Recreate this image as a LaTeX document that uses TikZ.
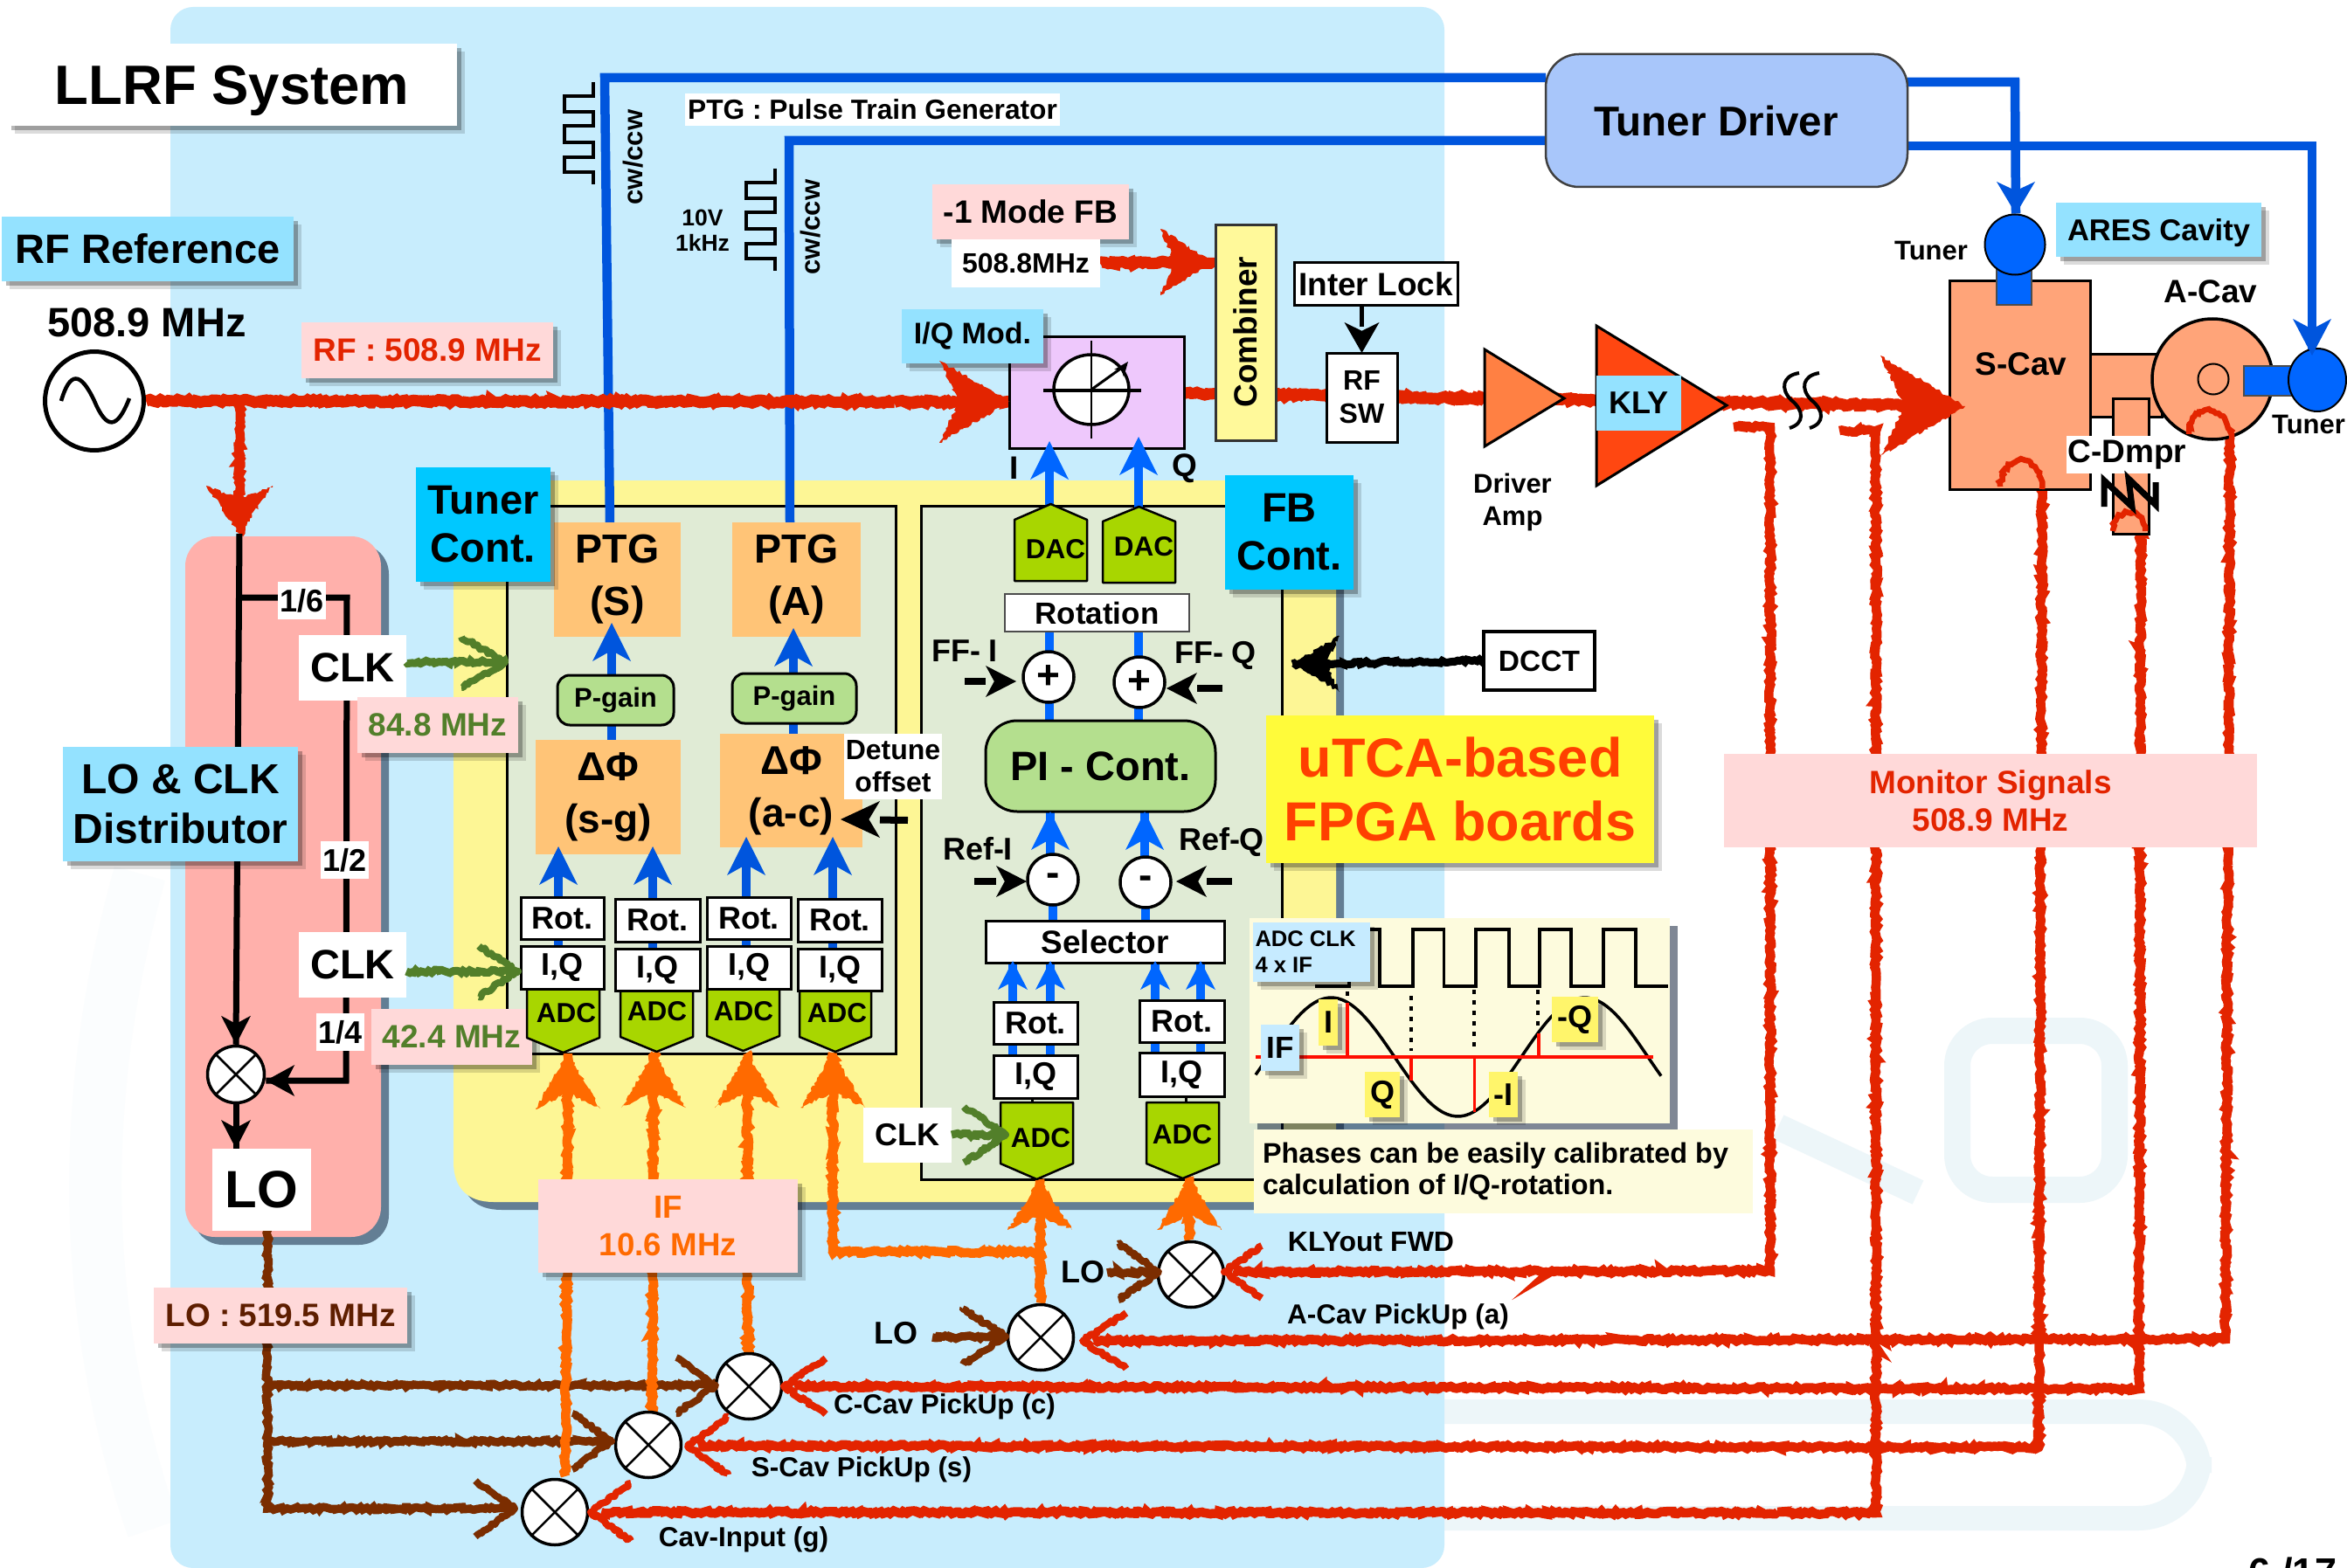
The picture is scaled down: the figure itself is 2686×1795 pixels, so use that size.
\documentclass[tikz,border=0pt]{standalone}
\usepackage{fontspec}
\setmainfont{Liberation Sans}
\usetikzlibrary{decorations.pathmorphing,shadows,calc,shapes.geometric}
\pgfdeclarelayer{back}\pgfdeclarelayer{lines}\pgfdeclarelayer{top}
\pgfsetlayers{back,lines,main,top}
\definecolor{cSky}{HTML}{C8EDFD}\definecolor{cCyan}{HTML}{94E2FF}\definecolor{cDeep}{HTML}{00C8FF}
\definecolor{cPink}{HTML}{FFD9D9}\definecolor{cRf}{HTML}{E32400}\definecolor{cBrn}{HTML}{7B2D00}
\definecolor{cBrnT}{HTML}{5E1E00}\definecolor{cOrg}{HTML}{FF6A00}\definecolor{cGrn}{HTML}{527F2A}
\definecolor{cBlu}{HTML}{0055DD}\definecolor{cBlt}{HTML}{0066FF}\definecolor{cPanel}{HTML}{E0EBD5}
\definecolor{cYel}{HTML}{FDF695}\definecolor{cPk}{HTML}{FFB0AB}\definecolor{cPtg}{HTML}{FFC477}
\definecolor{cGain}{HTML}{B4DF8E}\definecolor{cAdc}{HTML}{A8D600}\definecolor{cComb}{HTML}{FFF99A}
\definecolor{cTun}{HTML}{A8C6FA}\definecolor{cCav}{HTML}{FFA479}\definecolor{cIq}{HTML}{EEC8FC}
\definecolor{cAmp}{HTML}{FF8043}\definecolor{cKly}{HTML}{FF4711}\definecolor{cNote}{HTML}{FDFBDD}
\definecolor{cUt}{HTML}{FFFB3A}\definecolor{cUtT}{HTML}{FF4000}\definecolor{cTag}{HTML}{FFF56B}
\definecolor{cAdcL}{HTML}{C6EBFF}\definecolor{cMark}{HTML}{EDF6F9}
\newcommand\fs[2][1.2]{\fontsize{#2}{\fpeval{#1*#2}}\selectfont\bfseries}
\newcommand\rbx[7][]{\pgfmathsetmacro\rcx{(#3+#5)/2}\pgfmathsetmacro\rcy{(#4+#6)/2}\pgfmathsetmacro\rww{#5-#3}\pgfmathsetmacro\rhh{#6-#4}%
  \node[inner sep=0,outer sep=0,minimum width=\rww pt,minimum height=\rhh pt,align=center,#1] (#2) at (\rcx,\rcy) {#7};}
\newcommand\tx[6][]{\node[inner sep=0,align=center,font={\fs{#5}},#1] (#2) at (#3,#4) {#6};}
\newcommand\pent[9]{\draw[fill=cAdc,draw=black,line width=2.5,line join=round] (#2,#4)--(#3,#4)--(#3,#5)--({(#2+#3)/2},#6)--(#2,#5)--cycle;
  \node[inner sep=0,font={\fs{31.5}}] (#1) at (#7,#8) {#9};}
\newcommand\mixer[4]{\node[circle,draw=black,fill=white,line width=3.5,minimum size=#4*2 pt,inner sep=0] (#1) at (#2,#3) {};
  \draw[line width=2.5] (#1.45)--(#1.225) (#1.135)--(#1.-45);}
\newcommand\sumc[4]{\node[circle,draw=black,fill=white,line width=3.5,minimum size=58pt,inner sep=0,font={\fs{46}}] (#1) at (#2,#3) {#4};}
\newcommand\ahead[6][]{\begin{scope}[shift={(#2)},rotate=#3]\fill[#4,#1] (0,0)--(-#5,#6)--({-0.72*#5},0)--(-#5,-#6)--cycle;\end{scope}}
\newcommand\chev[5]{\begin{scope}[shift={(#1)},rotate=#2]\draw[#3,rough,line width=8,line join=round] (-#4,#5)--(0,0)--(-#4,-#5);\end{scope}}
\newcommand\bup[5]{\begin{pgfonlayer}{lines}\draw[line width=10,#5] (#1)--(#2);\end{pgfonlayer}
  \begin{pgfonlayer}{top}\ahead{#2}{90}{#5}{#3}{#4}\end{pgfonlayer}}
\newcommand\karr[5]{\draw[line width=8,black,shorten >=#4 pt] (#1)--(#2);\ahead{#2}{#3}{black}{#4}{#5}}
\begin{document}
\begin{tikzpicture}[x=1pt,y=-1pt,
 softsh/.style={general shadow={shadow xshift=9pt,shadow yshift=-9pt,opacity=.14,fill=black},general shadow={shadow xshift=5pt,shadow yshift=-5pt,opacity=.28,fill=black}},
 hardsh/.style={general shadow={shadow xshift=9pt,shadow yshift=-9pt,opacity=.5,fill=black!80!cBlu}},
 rough/.style={decorate,decoration={random steps,segment length=3pt,amplitude=1.8pt}},
 lab/.style={fill=cPink,softsh},
 cy/.style={fill=cCyan,softsh},
 deep/.style={fill=cDeep,softsh},
 wb/.style={fill=white,draw=black,line width=3},
 wn/.style={fill=white},
 org/.style={fill=cPtg},
 cav/.style={fill=cCav,draw=black,line width=3},
 tagy/.style={fill=cTag,softsh},
 rfl/.style={cRf,rough,line width=10.5,line join=miter},
 rfm/.style={cRf,rough,line width=13},
 brl/.style={cBrn,rough,line width=9.5},
 orl/.style={cOrg,rough,line width=10.5},
 grl/.style={cGrn,rough,line width=9},
 bll/.style={cBlu,line width=10.5,line join=miter},
 bkl/.style={black,line width=7,line join=miter},
 arc/.style={cRf,rough,line width=6.5}]
\useasboundingbox (0,0) rectangle (2686,1795);
\pgfmathsetseed{7}
%%%%% background
\begin{pgfonlayer}{back}
 \path[fill=white] (0,0) rectangle (2686,1795);
 \draw[cMark,line width=28,rounded corners=70] (1500,1616) -- (2517,1616) -- (2517,1738) -- (1500,1738);
 \draw[cMark,line width=30] (2035,1290) -- (2195,1365);
 \draw[cMark,line width=30,rounded corners=40] (2240,1180) -- (2420,1180) -- (2420,1362) -- (2240,1362) -- cycle;
 \draw[cMark!22!white,line width=60] (175,1750) .. controls (90,1500) and (90,1250) .. (160,1000);
 \rbx[fill=cSky,rounded corners=26]{bgsky}{195}{8}{1653}{1795}{}
 \rbx[fill=cPk,rounded corners=34,hardsh]{pkpanel}{212}{614}{436}{1416}{}
 \fill[cYel,hardsh] (519,550)--(1529,550)--(1529,1376)--(565,1376) .. controls (535,1376) and (519,1360) .. (519,1330) -- cycle;
 \rbx[fill=cPanel,draw=black,line width=3]{pnlL}{580}{579}{1025}{1206}{}
 \rbx[fill=cPanel,draw=black,line width=3]{pnlR}{1054}{579}{1467}{1350}{}
\end{pgfonlayer}
%%%%% named end points
\coordinate (tPk) at (274,611);
\coordinate (bS1) at (698,600); \coordinate (bS2) at (692,89);
\coordinate (bA1) at (904,600); \coordinate (bA2) at (903,161);
\coordinate (bR0) at (2183,94); \coordinate (bR1) at (2306,94); \coordinate (tT1) at (2307,245);
\coordinate (bQ0) at (2183,167); \coordinate (bQ1) at (2646,167); \coordinate (tT2) at (2646,407);
\coordinate (tIq) at (1156,460); \coordinate (tComb) at (1387,300); \coordinate (tS) at (2249,465);
\coordinate (tI) at (1201,505); \coordinate (tQ) at (1303,500);
\coordinate (rK0) at (1984,489); \coordinate (rK1) at (2026,489); \coordinate (rK2) at (2026,1455);
\coordinate (rG0) at (2105,493); \coordinate (rG1) at (2147,493); \coordinate (rG2) at (2147,1732);
\coordinate (rS1) at (2337,556); \coordinate (rS2) at (2333,1657);
\coordinate (rC1) at (2450,606); \coordinate (rC2) at (2448,1590);
\coordinate (rA1) at (2552,500); \coordinate (rA2) at (2547,1533);
\coordinate (tmK) at (1401,1456); \coordinate (tmA) at (1239,1535); \coordinate (tmC) at (897,1587);
\coordinate (tmS) at (787,1655); \coordinate (tmG) at (676,1731);
\coordinate (br0) at (306,1405); \coordinate (br1) at (306,1586); \coordinate (br2) at (306,1650); \coordinate (br3) at (306,1727);
\coordinate (tb1) at (819,1586); \coordinate (tb2) at (700,1650); \coordinate (tb3) at (589,1727);
\coordinate (tL1) at (1151,1530); \coordinate (sL1) at (1067,1531); \coordinate (tL2) at (1326,1456); \coordinate (sL2) at (1267,1457);
\coordinate (oA0) at (647,1690); \coordinate (oA) at (650,1206);
\coordinate (oB0) at (746,1618); \coordinate (oB) at (748,1205);
\coordinate (oC0) at (856,1552); \coordinate (oC) at (855,1205);
\coordinate (oD1) at (1186,1433); \coordinate (oD0) at (953,1433); \coordinate (oD) at (953,1205);
\coordinate (oE) at (1190,1350); \coordinate (oF) at (1361,1347);
\coordinate (tg1) at (578,758); \coordinate (tg2) at (593,1112); \coordinate (tg3) at (1151,1299);
\coordinate (tD) at (1479,760);
%%%%% title and labels
\rbx[wn,softsh,text depth=0pt]{title}{8}{50}{523}{144}{\fs{63.5}LLRF System}
\rbx[cy]{rfref}{2}{248}{336}{322}{\fs{47}RF Reference}
\tx{f0}{168}{369}{47}{508.9 MHz}
\node[circle,draw=black,fill=white,line width=5,minimum size=113pt,inner sep=0] (osc) at (108,459) {};
\draw[line width=4.5] (70,459) .. controls (80,425) and (92,425) .. (108,459) .. controls (122,492) and (134,492) .. (148,456);
\rbx[lab]{rflab}{345}{369}{633}{433}{\fs{37}\color{cRf}RF : 508.9 MHz}
%%%%% distributor
\rbx[wn]{d16}{318}{666}{373}{709}{\fs{36}1/6}
\rbx[wn]{clkA}{342}{727}{465}{802}{\fs{47}CLK}
\rbx[lab]{m848}{409}{798}{593}{862}{\fs{37}\color{cGrn}84.8 MHz}
\rbx[cy,font={\fs[1.19]{48}}]{dist}{72}{855}{341}{986}{LO \& CLK\\Distributor}
\rbx[wn]{d12}{367}{963}{422}{1006}{\fs{36}1/2}
\rbx[wn]{clkB}{342}{1067}{465}{1142}{\fs{47}CLK}
\rbx[wn]{d14}{362}{1160}{417}{1203}{\fs{36}1/4}
\rbx[lab]{m424}{425}{1155}{609}{1219}{\fs{37}\color{cGrn}42.4 MHz}
\mixer{mxL}{270}{1230}{32.5}
\rbx[wn]{lobox}{243}{1315}{356}{1409}{\fs{60}LO}
\rbx[lab]{lolab}{176}{1474}{466}{1538}{\fs{37}\color{cBrnT}LO : 519.5 MHz}
%%%%% tuner controller
\rbx[org,font={\fs[1.29]{46.5}}]{ptgS}{634}{598}{779}{729}{PTG\\(S)}
\rbx[org,font={\fs[1.29]{46.5}}]{ptgA}{838}{598}{985}{729}{PTG\\(A)}
\rbx[deep,font={\fs[1.17]{47}}]{tcont}{476}{535}{630}{666}{Tuner\\Cont.}
\rbx[fill=cGain,draw=black,line width=3,rounded corners=14]{pgS}{638}{773}{771}{830}{\fs{31}P-gain}
\rbx[fill=cGain,draw=black,line width=3,rounded corners=14]{pgA}{838}{771}{980}{828}{\fs{31}P-gain}
\rbx[org,font={\fs[1.3]{46}}]{dpS}{613}{847}{779}{978}{ΔΦ\\(s-g)}
\rbx[org,font={\fs[1.3]{46}}]{dpA}{824}{840}{987}{970}{ΔΦ\\(a-c)}
\rbx[wn,font={\fs[1.16]{32}}]{detune}{966}{840}{1078}{915}{Detune\\offset}
\rbx[wb]{rot1}{596}{1027}{691}{1075}{\fs{36}Rot.}
\rbx[wb]{rot2}{704}{1029}{801}{1078}{\fs{36}Rot.}
\rbx[wb]{rot3}{809}{1027}{905}{1075}{\fs{36}Rot.}
\rbx[wb]{rot4}{913}{1029}{1009}{1078}{\fs{36}Rot.}
\pent{adc1}{603}{686}{1132}{1188}{1205}{648}{1160}{ADC}
\pent{adc2}{710}{793}{1134}{1187}{1204}{752}{1158}{ADC}
\pent{adc3}{809}{892}{1132}{1186}{1203}{851}{1158}{ADC}
\pent{adc4}{915}{997}{1134}{1187}{1204}{958}{1160}{ADC}
\rbx[wb]{iq1}{596}{1083}{691}{1132}{\fs{36}I,Q}
\rbx[wb]{iq2}{704}{1086}{801}{1134}{\fs{36}I,Q}
\rbx[wb]{iq3}{809}{1083}{905}{1132}{\fs{36}I,Q}
\rbx[wb]{iq4}{913}{1086}{1009}{1134}{\fs{36}I,Q}
%%%%% FB controller
\pent{dac1}{1161}{1244}{665}{595}{577}{1208}{629}{DAC}
\pent{dac2}{1262}{1345}{667}{597}{580}{1309}{626}{DAC}
\rbx[fill=white,draw=black!70,line width=2]{rotn}{1150}{680}{1361}{723}{\fs{35}Rotation}
\sumc{plusI}{1200}{775}{+}
\sumc{plusQ}{1304}{781}{+}
\tx{ffI}{1104}{745}{36}{FF- I}
\tx{ffQ}{1391}{750}{36}{FF- Q}
\rbx[fill=cGain,draw=black,line width=3,rounded corners=36]{piC}{1128}{825}{1391}{929}{\fs{47}PI - Cont.}
\sumc{minI}{1205}{1007}{-}
\sumc{minQ}{1311}{1010}{-}
\tx{refI}{1119}{972}{36}{Ref-I}
\tx{refQ}{1398}{964}{36}{Ref-Q}
\rbx[wb]{sel}{1128}{1054}{1401}{1102}{\fs{37}Selector}
\rbx[wb]{rotL}{1137}{1147}{1233}{1195}{\fs{36}Rot.}
\rbx[wb]{rotR}{1304}{1145}{1401}{1193}{\fs{36}Rot.}
\rbx[wb]{iqL}{1137}{1208}{1233}{1257}{\fs{36}I,Q}
\rbx[wb]{iqR}{1304}{1205}{1401}{1255}{\fs{36}I,Q}
\pent{adcL}{1145}{1228}{1262}{1332}{1350}{1191}{1303}{ADC}
\pent{adcR}{1312}{1395}{1262}{1332}{1349}{1353}{1299}{ADC}
\draw[line width=3] (1181,1257) -- (1181,1262) (1357,1255) -- (1357,1262);
\rbx[wn]{clkC}{988}{1268}{1089}{1331}{\fs{36}CLK}
\rbx[deep,font={\fs[1.17]{47}}]{fbc}{1402}{544}{1549}{675}{FB\\Cont.}
\rbx[fill=cUt,softsh,font={\fs[1.17]{63}},text=cUtT]{utca}{1449}{819}{1893}{988}{uTCA-based\\FPGA boards}
%%%%% phase plot
\rbx[fill=cNote,hardsh]{phbox}{1430}{1051}{1911}{1286}{}
\draw[black,line width=3.5,line join=miter] (1505,1129)--(1544,1129)--(1544,1064)--(1579,1064)--(1579,1129)--(1617,1129)--(1617,1064)--(1652.5,1064)--(1652.5,1129)--(1689,1129)--(1689,1064)--(1727,1064)--(1727,1129)--(1762,1129)--(1762,1064)--(1798,1064)--(1798,1129)--(1835,1129)--(1835,1064)--(1872,1064)--(1872,1129)--(1909,1129);
\draw[black,line width=3.5] plot[domain=1437:1901,samples=90] (\x,{1210-68*sin(1.24138*(\x-1451))});
\draw[black,line width=3.5,dash pattern=on 5pt off 7pt] (1542,1135)--(1542,1142) (1615,1140)--(1615,1203) (1687,1133)--(1687,1200) (1760,1133)--(1760,1180);
\draw[red!90!orange,line width=3.5] (1437,1210)--(1892,1210) (1542,1210)--(1542,1148) (1615,1210)--(1615,1237) (1687.5,1210)--(1687.5,1273) (1761,1210)--(1761,1183);
\rbx[fill=cAdcL,softsh]{adcclk}{1434}{1056}{1568}{1124}{\hspace*{-14pt}\parbox{115pt}{\fs[1.17]{25.6}ADC CLK\\4 x IF}}
\rbx[fill=cAdcL,softsh]{ifl}{1443}{1173}{1487}{1226}{\fs{35}IF}
\rbx[tagy]{tagI}{1509}{1144}{1531}{1197}{\fs{36}I}
\rbx[tagy]{tagQ}{1562}{1227}{1602}{1279}{\fs{36}Q}
\rbx[tagy]{tagmI}{1704}{1227}{1737}{1279}{\fs{36}-I}
\rbx[tagy]{tagmQ}{1776}{1141}{1829}{1193}{\fs{36}-Q}
\rbx[fill=cNote]{phase}{1435}{1293}{2006}{1389}{\parbox{551pt}{\fs[1.13]{32.4}Phases can be easily calibrated by\\calculation of I/Q-rotation.}}
%%%%% top right chain
\rbx[fill=cTun,draw=black!75,line width=2.5,rounded corners=38]{td}{1769}{62}{2183}{214}{}
\tx{tdt}{1964}{138}{47.6}{Tuner Driver}
\rbx[wn]{ptglab}{784}{107}{1213}{144}{\fs{31.7}PTG : Pulse Train Generator}
\rbx[lab]{m1}{1067}{211}{1292}{274}{\fs{37}-1 Mode FB}
\rbx[wn]{m508}{1089}{274}{1259}{329}{\fs{32}508.8MHz}
\rbx[fill=cIq,draw=black,line width=3]{iqm}{1155}{385}{1355}{513}{}
\node[ellipse,draw=black,fill=white,line width=3.5,minimum width=86pt,minimum height=80pt,inner sep=0] (phi) at (1249,446) {};
\draw[line width=3.5] (1194,447)--(1306,447);
\draw[line width=2] (1249,390)--(1249,502);
\draw[line width=3] (phi.center)--(1288,418);
\ahead{1291,414}{52}{black}{17}{7}
\rbx[cy]{iqlab}{1032}{354}{1194}{416}{\fs{34}I/Q Mod.}
\rbx[fill=cComb,draw=black!80,line width=3]{comb}{1391}{258}{1460}{504}{}
\tx[rotate=90]{combt}{1425}{380}{37}{Combiner}
\rbx[wb]{lock}{1481}{301}{1668}{350}{\fs{37}Inter Lock}
\rbx[wb,font={\fs[1.19]{32}}]{sw}{1518}{404}{1599}{506}{RF\\SW}
\coordinate (drvT) at (1790,456);
\draw[fill=cAmp,draw=black,line width=3,line join=miter] (1699,400)--(drvT)--(1699,511)--cycle;
\tx[font={\fs[1.22]{31}}]{drvl}{1731}{575}{31}{Driver\\Amp}
\coordinate (klyT) at (1976,464);
\draw[fill=cKly,draw=black,line width=3,line join=miter] (1827,373)--(klyT)--(1827,556)--cycle;
\rbx[fill=cCyan]{kly}{1827}{430}{1924}{493}{\fs{36}KLY}
\rbx[wb,line width=3.5]{dcct}{1698}{723}{1825}{790}{\fs{33.5}DCCT}
%%%%% cavities
\rbx[cav]{cplr}{2392}{405}{2474}{477}{}
\rbx[cav]{dmp}{2418}{456}{2459}{611}{}
\rbx[cav]{scav}{2231.5}{322}{2392}{560}{}
\tx{scavt}{2313}{417}{37}{S-Cav}
\node[circle,draw=black,fill=cCav,line width=3.5,minimum size=138pt,inner sep=0] (acav) at (2532,434) {};
\node[circle,draw=black,line width=2,minimum size=35pt,inner sep=0] (acavc) at (2533,434) {};
\rbx[fill=cBlt,draw=black!70,line width=2]{stemS}{2285}{300}{2325}{349}{}
\node[circle,draw=black,fill=cBlt,line width=2,minimum size=69pt,inner sep=0] (tunS) at (2306,280) {};
\rbx[fill=cBlt,draw=black!70,line width=2]{stemA}{2568}{419}{2625}{453}{}
\node[ellipse,draw=black,fill=cBlt,line width=2,minimum width=66pt,minimum height=72pt,inner sep=0] (tunA) at (2652,435) {};
\tx{tunLa}{2210}{287}{31}{Tuner}
\tx{tunLb}{2642}{486}{31}{Tuner}
\tx{acavt}{2530}{334}{37}{A-Cav}
\rbx[cy,text depth=0pt]{ares}{2353}{232}{2588}{294}{\fs{34.5}ARES Cavity}
\rbx[wn]{cdmp}{2365}{499}{2504}{542}{\fs{37}C-Dmpr}
\rbx[fill=cPink,font={\fs[1.16]{37}},text=cRf]{mon}{1973}{863}{2583}{970}{Monitor Signals\\508.9 MHz}
%%%%% IF label and mixers
\rbx[lab,font={\fs[1.17]{36.7}},text=cOrg]{iflab}{616}{1350}{913}{1457}{IF\\10.6 MHz}
\mixer{mxK}{1363}{1459}{37.5}
\mixer{mxA}{1191}{1531}{37.5}
\mixer{mxC}{857}{1587}{37.5}
\mixer{mxS}{742}{1654}{37.5}
\mixer{mxG}{635}{1731}{37.5}
\tx{lo1}{1025}{1526}{36}{LO}
\tx{lo2}{1239}{1456}{36}{LO}
\tx{klyfwd}{1569}{1422}{32}{KLYout FWD}
\tx{apick}{1600}{1507}{31.5}{A-Cav PickUp (a)}
\tx{cpick}{1081}{1610}{31.5}{C-Cav PickUp (c)}
\tx{spick}{986}{1682}{31.5}{S-Cav PickUp (s)}
\tx{gpick}{851}{1762}{31.5}{Cav-Input (g)}
\tx{iL}{1161}{536}{37}{I}
\tx{qL}{1356}{536}{37}{Q}
\tx[rotate=90]{cwb}{725}{180}{31}{cw/ccw}
\tx[rotate=90]{cwc}{928}{260}{31}{cw/ccw}
\tx[font={\fs[1.1]{26.5}}]{tenv}{804}{264}{26.5}{10V\\1kHz}
\draw[line width=4,line join=miter] (679,94)--(679,110)--(646,110)--(646,128)--(679,128)--(679,144)--(646,144)--(646,163)--(679,163)--(679,180)--(646,180)--(646,197)--(679,197)--(679,211);
\draw[line width=4,line join=miter] (887,193)--(887,209)--(854,209)--(854,227)--(887,227)--(887,243)--(854,243)--(854,262)--(887,262)--(887,279)--(854,279)--(854,296)--(887,296)--(887,310);
\node[anchor=base,inner sep=0,font={\fs{45}}] (pgno) at (2624,1815) {6 /17};
%%%%% connectors below the boxes
\begin{pgfonlayer}{lines}
 \draw[bll] (bS1)--(bS2)--(bS2 -| td.west);
 \draw[bll] (bA1)--(bA2)--(bA2 -| td.west);
 \draw[bll] (bR0)--(bR1)--(tT1 |- tunS.north);
 \draw[bll] (bQ0)--(bQ1)--(tT2);
 \draw[line width=10,cBlt] (tI |- piC.center)--(tI |- rotn.center);
 \draw[line width=10,cBlt] (tQ |- piC.center)--(tQ |- rotn.center);
 \draw[line width=10,cBlt] (minI.center)--(minI |- sel.center);
 \draw[line width=10,cBlt] (minQ.center)--(minQ |- sel.center);
 \draw[brl] (br0)--(br3)--(tb3);
 \draw[brl] (br1)--(tb1);
 \draw[brl] (br2)--(tb2);
 \draw[brl] (sL1)--(tL1);
 \draw[brl] (sL2)--(tL2);
 \draw[rfm] (osc.east)--(tIq);
 \draw[rfl] (274,458)--(tPk);
 \draw[rfm] (iqm.center)--(tS);
 \draw[rfm] (m508.east)--(tComb);
 \draw[rfl] (rK0)--(rK1)--(rK2)--($(tmK)+(10,0)$);
 \draw[rfl] (rG0)--(rG1)--(rG2)--($(tmG)+(12,0)$);
 \draw[rfl] (rS1)--(rS2)--($(tmS)+(12,0)$);
 \draw[rfl] (rC1)--(rC2)--($(tmC)+(12,0)$);
 \draw[rfl] (rA1)--(rA2)--($(tmA)+(12,0)$);
 \draw[orl] (oA0)--(oA);
 \draw[orl] (oB0)--(oB);
 \draw[orl] (oC0)--(oC);
 \draw[orl] (oD1)--(oD0)--(oD);
 \draw[orl] (mxA.north)--(oE);
 \draw[orl] (mxK.north -| oF)--(oF);
 \draw[bkl] (tPk)--(mxL.north);
 \draw[bkl] (275,684)--(397,684)--(396,1237)--(mxL.east |- 0,1237);
 \draw[bkl] (mxL.south)--(lobox.north -| mxL);
 \draw[black,rough,line width=9] (dcct.west)--(tD);
\end{pgfonlayer}
%%%%% blue arrows
\bup{iq1.center -| 639,0}{639,969}{44}{22}{cBlu}
\bup{iq2.center -| 747,0}{747,969}{44}{22}{cBlu}
\bup{iq3.center -| 854,0}{854,958}{44}{22}{cBlu}
\bup{iq4.center -| 953,0}{953,958}{44}{22}{cBlu}
\bup{dpS.center -| 700,0}{700,713}{44}{22}{cBlu}
\bup{dpA.center -| 908,0}{908,719}{44}{22}{cBlu}
\bup{dac1.center -| tI}{tI}{44}{22}{cBlt}
\bup{dac2.center -| tQ}{tQ}{44}{22}{cBlt}
\bup{minI.center -| 1202,0}{1202,929}{44}{22}{cBlt}
\bup{minQ.center -| 1310,0}{1310,929}{44}{22}{cBlt}
\bup{iqL.center -| 1159,0}{1159,1100}{33}{17}{cBlt}
\bup{iqL.center -| 1202,0}{1202,1100}{33}{17}{cBlt}
\bup{iqR.center -| 1322,0}{1322,1100}{33}{17}{cBlt}
\bup{iqR.center -| 1374,0}{1374,1100}{33}{17}{cBlt}
%%%%% things on top of the boxes
\begin{pgfonlayer}{top}
 \ahead{tT1}{270}{cBlu}{37}{22}
 \ahead{tT2}{270}{cBlu}{42}{22}
 \ahead[rough]{tPk}{270}{cRf}{55}{38}
 \ahead[rough]{tIq}{0}{cRf}{81}{47}
 \ahead[rough]{tComb}{0}{cRf}{59}{38}
 \ahead[rough]{tS}{0}{cRf}{97}{58}
 \ahead[rough]{tD}{180}{black}{54}{32}
 \ahead[rough]{oA}{90}{cOrg}{63}{37}
 \ahead[rough]{oB}{90}{cOrg}{63}{37}
 \ahead[rough]{oC}{90}{cOrg}{63}{37}
 \ahead[rough]{oD}{90}{cOrg}{63}{37}
 \ahead[rough]{oE}{90}{cOrg}{58}{37}
 \ahead[rough]{oF}{90}{cOrg}{61}{37}
 \chev{tb1}{0}{cBrn}{45}{32}
 \chev{tb2}{0}{cBrn}{45}{32}
 \chev{tb3}{0}{cBrn}{45}{32}
 \chev{tL1}{0}{cBrn}{49}{32}
 \chev{tL2}{0}{cBrn}{46}{32}
 \chev{tmK}{180}{cRf}{43}{30}
 \chev{tmA}{180}{cRf}{50}{32}
 \chev{tmC}{180}{cRf}{48}{32}
 \chev{tmS}{180}{cRf}{46}{33}
 \chev{tmG}{180}{cRf}{46}{33}
 \draw[grl] (clkA.east |- tg1)--(tg1);
 \draw[grl] (clkB.east |- tg2)--(tg2);
 \draw[grl] (clkC.east |- tg3)--(tg3);
 \chev{tg1}{0}{cGrn}{50}{29}
 \chev{tg2}{0}{cGrn}{45}{29}
 \chev{tg3}{0}{cGrn}{48}{32}
 \draw[arc] (2289,557) .. controls (2291,518) and (2335,515) .. (2337,560);
 \draw[arc] (2418,608) .. controls (2420,580) and (2453,580) .. (2455,608);
 \draw[arc] (2505,497) .. controls (2507,460) and (2550,460) .. (2554,503);
 \draw[black,line width=7,line join=miter] (2408,580)--(2408,550)--(2440,580)--(2436,548)--(2467,578)--(2467,552);
 \draw[black,line width=4] (2059,427) .. controls (2040,430) and (2037,445) .. (2050,458) .. controls (2065,470) and (2065,485) .. (2048,490);
 \draw[black,line width=4] (2082,427) .. controls (2063,430) and (2060,445) .. (2073,458) .. controls (2088,470) and (2088,485) .. (2071,490);
 \draw[line width=5,black,shorten >=30pt] (sw.north |- lock.south)--(sw.north);
 \ahead{sw.north}{270}{black}{35}{20}
 \ahead{mxL.north}{270}{black}{33}{17}
 \ahead{lobox.north -| mxL}{270}{black}{33}{17}
 \ahead{mxL.east |- 0,1237}{180}{black}{33}{18}
 \karr{1104,780}{1163,780}{0}{35}{18}
 \karr{1399,788}{1335,788}{180}{35}{18}
 \karr{1115,1009}{1175,1009}{0}{35}{18}
 \karr{1410,1009}{1346,1009}{180}{35}{18}
 \karr{1039,939}{962,938}{180}{45}{21}
\end{pgfonlayer}
\end{tikzpicture}
\end{document}
